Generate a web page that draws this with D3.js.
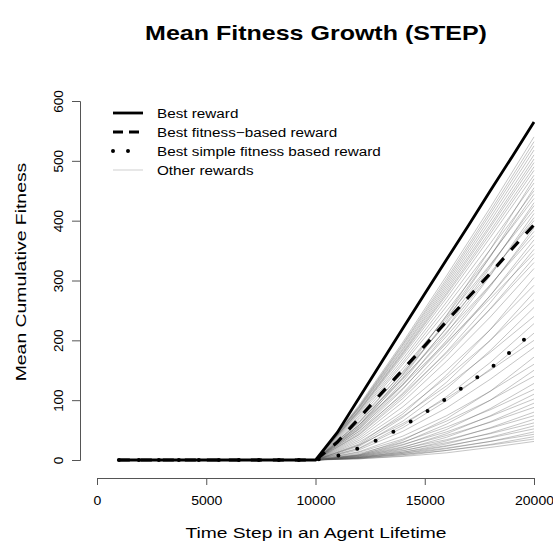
<!DOCTYPE html>
<html>
<head>
<meta charset="utf-8">
<script src="https://cdn.jsdelivr.net/npm/d3@7"></script>
<style>
  body { margin: 0; background: #fff; }
  text { font-family: "Liberation Sans", Arial, Helvetica, sans-serif; fill: #000; }
</style>
</head>
<body>
<script>
// time steps for the highlighted rewards
const steps = [1000, 2000, 3000, 4000, 5000, 6000, 7000, 8000, 9000, 10000,
               11000, 12000, 13000, 14000, 15000, 16000, 17000, 18000, 19000, 20000];

const bestReward    = [0, 0, 0, 0, 0, 0, 0, 0, 0, 0, 46, 104, 162, 220, 278, 335, 392, 450, 507, 565];
const bestFitness   = [0, 0, 0, 0, 0, 0, 0, 0, 0, 0, 30, 70, 111, 151, 191, 232, 272, 312, 353, 393];
const bestSimple    = [0, 0, 0, 0, 0, 0, 0, 0, 0, 0, 7, 20, 36, 56, 79, 103, 128, 153, 183, 216];

// other rewards, read every 2000 steps after 10000
const otherSteps = [10000, 12000, 14000, 16000, 18000, 20000];
const otherRewards = [
  [0, 92, 197, 308, 422, 540], [0, 90, 194, 303, 416, 532], [0, 89, 192, 299, 411, 525],
  [0, 88, 189, 295, 405, 518], [0, 87, 186, 291, 399, 510], [0, 86, 184, 287, 393, 503],
  [0, 84, 181, 283, 389, 497], [0, 83, 179, 279, 383, 490], [0, 82, 177, 276, 378, 484],
  [0, 81, 174, 271, 372, 476], [0, 58, 143, 242, 352, 470], [0, 79, 169, 264, 362, 463],
  [0, 56, 138, 234, 340, 455], [0, 77, 164, 257, 352, 450], [0, 64, 148, 241, 340, 444],
  [0, 74, 160, 249, 342, 437], [0, 53, 131, 221, 322, 430], [0, 62, 142, 230, 325, 425],
  [0, 71, 153, 238, 327, 418], [0, 51, 125, 212, 308, 412], [0, 59, 135, 220, 310, 405],
  [0, 68, 146, 228, 313, 400], [0, 48, 118, 200, 290, 388], [0, 55, 127, 207, 292, 382],
  [0, 64, 137, 214, 293, 375], [0, 45, 112, 190, 275, 368], [0, 52, 120, 195, 275, 360],
  [0, 43, 107, 181, 263, 352], [0, 59, 126, 197, 270, 345], [0, 42, 103, 174, 253, 338],
  [0, 48, 110, 179, 252, 330],
  [0, 39, 97, 165, 239, 320], [0, 27, 77, 142, 218, 305], [0, 36, 89, 150, 218, 292],
  [0, 25, 71, 130, 200, 280], [0, 33, 81, 138, 200, 268], [0, 23, 65, 119, 183, 255],
  [0, 30, 73, 124, 180, 240], [0, 20, 58, 106, 163, 228], [0, 19, 54, 99, 152, 212],
  [0, 25, 61, 103, 150, 200], [0, 17, 48, 87, 135, 188], [0, 9, 33, 69, 115, 172],
  [0, 14, 40, 74, 115, 160], [0, 8, 29, 60, 100, 150],
  [0, 13, 35, 65, 100, 140], [0, 7, 25, 51, 86, 128], [0, 11, 30, 55, 84, 118],
  [0, 6, 21, 44, 74, 110], [0, 9, 26, 47, 73, 102], [0, 5, 18, 38, 64, 95],
  [0, 8, 22, 41, 63, 88], [0, 4, 15, 32, 54, 80], [0, 7, 19, 34, 53, 74],
  [0, 4, 13, 27, 45, 68], [0, 6, 16, 29, 44, 62], [0, 3, 11, 23, 38, 57],
  [0, 5, 13, 24, 37, 52], [0, 3, 9, 19, 31, 47], [0, 4, 11, 20, 31, 43],
  [0, 2, 7, 16, 26, 39], [0, 3, 9, 16, 25, 35], [0, 2, 6, 12, 21, 31]
];

const xTicks = [0, 5000, 10000, 15000, 20000];
const yTicks = [0, 100, 200, 300, 400, 500, 600];
const legendLabels = ["Best reward", "Best fitness\u2212based reward", "Best simple fitness based reward", "Other rewards"];

const width = 553, height = 544;

// the reference text is drawn a bit wider than Arial, so stretch it
function stretch(sel, k) {
  sel.each(function () {
    const len = this.getComputedTextLength();
    d3.select(this).attr("textLength", len * k).attr("lengthAdjust", "spacingAndGlyphs");
  });
}

const svg = d3.select("body").append("svg")
    .attr("width", width)
    .attr("height", height);

const x = d3.scaleLinear().domain([0, 20000]).range([97, 534]);
const y = d3.scaleLinear().domain([0, 600]).range([460, 101]);

// title
svg.append("text")
    .attr("x", 316).attr("y", 40)
    .attr("text-anchor", "middle")
    .style("font-size", "20.5px").style("font-weight", "bold")
    .text("Mean Fitness Growth (STEP)")
    .call(stretch, 1.22);

// x axis
const xAxis = svg.append("g")
    .attr("transform", "translate(0,478)")
    .call(d3.axisBottom(x).tickValues(xTicks).tickFormat(d3.format("d")).tickSize(7).tickPadding(11));
xAxis.select(".domain").attr("stroke", "#555");
xAxis.selectAll(".tick line").attr("stroke", "#555");
xAxis.selectAll("text").style("font-size", "12.5px").attr("fill", "#222").call(stretch, 1.12);

// y axis
const yAxis = svg.append("g")
    .attr("transform", "translate(80,0)")
    .call(d3.axisLeft(y).tickValues(yTicks).tickSize(8).tickPadding(0));
yAxis.select(".domain").attr("stroke", "#555");
yAxis.selectAll(".tick line").attr("stroke", "#555");
yAxis.selectAll("text")
    .style("font-size", "12px").attr("fill", "#222")
    .attr("text-anchor", "middle")
    .attr("x", 0).attr("dy", 0)
    .attr("transform", "translate(-21,0) rotate(-90)")
    .attr("y", 4)
    .call(stretch, 1.12);

// axis labels
svg.append("text")
    .attr("x", 316).attr("y", 538)
    .attr("text-anchor", "middle")
    .style("font-size", "15.5px")
    .text("Time Step in an Agent Lifetime")
    .call(stretch, 1.24);

svg.append("text")
    .attr("transform", "translate(26,272) rotate(-90)")
    .attr("text-anchor", "middle")
    .style("font-size", "15.5px")
    .text("Mean Cumulative Fitness")
    .call(stretch, 1.25);

// lines
const lineOther = d3.line().x((d, i) => x(otherSteps[i])).y(d => y(d));
const line = d3.line().x((d, i) => x(steps[i])).y(d => y(d));

svg.append("g").selectAll("path")
    .data(otherRewards)
    .enter().append("path")
    .attr("d", lineOther)
    .attr("fill", "none")
    .attr("stroke", "#555")
    .attr("stroke-opacity", 0.34)
    .attr("stroke-width", 1);

svg.append("path").datum(bestReward)
    .attr("d", line).attr("fill", "none")
    .attr("stroke", "#000").attr("stroke-width", 2.8);

svg.append("path").datum(bestFitness)
    .attr("d", line).attr("fill", "none")
    .attr("stroke", "#000").attr("stroke-width", 3.2)
    .attr("stroke-dasharray", "11 11");

svg.append("path").datum(bestSimple)
    .attr("d", line).attr("fill", "none")
    .attr("stroke", "#000").attr("stroke-width", 4)
    .attr("stroke-linecap", "round")
    .attr("stroke-dasharray", "0 20");

// legend
const legend = svg.append("g");
const legendStyles = [
  { stroke: "#000", width: 2.8, dash: null, cap: "butt", opacity: 1 },
  { stroke: "#000", width: 3.2, dash: "10 6", cap: "butt", opacity: 1 },
  { stroke: "#000", width: 4, dash: "0 15", cap: "round", opacity: 1 },
  { stroke: "#888", width: 1, dash: null, cap: "butt", opacity: 0.4 }
];
legendLabels.forEach((label, i) => {
  const ly = 113 + i * 19;
  const s = legendStyles[i];
  legend.append("line")
      .attr("x1", 113).attr("x2", 143)
      .attr("y1", ly).attr("y2", ly)
      .attr("stroke", s.stroke).attr("stroke-width", s.width)
      .attr("stroke-opacity", s.opacity)
      .attr("stroke-linecap", s.cap)
      .attr("stroke-dasharray", s.dash);
  legend.append("text")
      .attr("x", 157).attr("y", ly + 4.5)
      .style("font-size", "12.5px")
      .attr("fill", "#222")
      .text(label)
      .call(stretch, 1.22);
});
</script>
</body>
</html>
